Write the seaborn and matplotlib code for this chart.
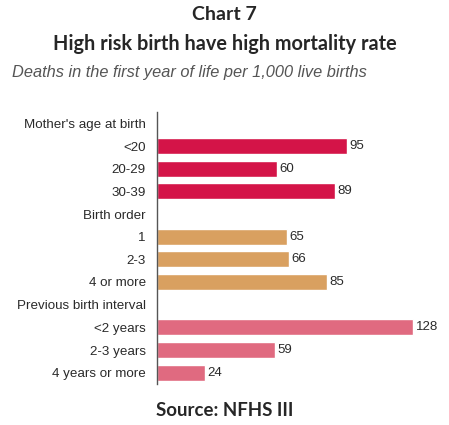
import pandas as pd
import seaborn as sns
import matplotlib.pyplot as plt
import numpy as np

labels = ["Mother's age at birth", '<20', '20-29', '30-39',
          'Birth order', '1', '2-3', '4 or more',
          'Previous birth interval', '<2 years', '2-3 years', '4 years or more']
groups = ['head', 'age', 'age', 'age',
          'head', 'order', 'order', 'order',
          'head', 'interval', 'interval', 'interval']
values = [np.nan, 95, 60, 89,
          np.nan, 65, 66, 85,
          np.nan, 128, 59, 24]

colors = {'head': '#ffffff', 'age': '#d41448', 'order': '#d9a060', 'interval': '#e06a80'}

df = pd.DataFrame({'label': labels, 'group': groups, 'value': values})
df_bars = df.dropna()

sns.set_style('white')
fig = plt.figure(figsize=(4.49, 4.25), dpi=100)
ax = fig.add_axes([157/449, 1-384/425, 280/449, 272/425])

sns.barplot(data=df_bars, x='value', y='label', hue='group', order=labels,
            palette=colors, dodge=False, width=0.72, orient='h',
            legend=False, ax=ax, saturation=1)

for c in ax.containers:
    ax.bar_label(c, fmt='%g', padding=2, fontsize=9.5, color='#2a2a2a',
                 family='Liberation Sans')

ax.set_xlim(0, 140)
ax.set_xlabel('')
ax.set_ylabel('')
ax.set_xticks([])
for s in ['top', 'right', 'bottom']:
    ax.spines[s].set_visible(False)
ax.spines['left'].set_color('#555555')
ax.spines['left'].set_linewidth(1)
ax.tick_params(axis='y', length=0, pad=8)
for t in ax.get_yticklabels():
    t.set_fontfamily('Liberation Sans')
    t.set_fontsize(9.6)
    t.set_color('#2a2a2a')

fig.text(0.5, 1-15/425, 'Chart 7', ha='center', va='center',
         fontsize=14, fontweight='bold', family='Lato')
fig.text(0.5, 1-44/425, 'High risk birth have high mortality rate', ha='center',
         va='center', fontsize=14.3, fontweight='bold', family='Lato')
fig.text(12/449, 1-73/425, 'Deaths in the first year of life per 1,000 live births',
         ha='left', va='center', fontsize=11.8, style='italic', color='#555555',
         family='Liberation Sans')
fig.text(0.5, 1-410/425, 'Source: NFHS III', ha='center', va='center',
         fontsize=13.4, fontweight='bold', family='Lato')

plt.savefig('out.png', dpi=100)
